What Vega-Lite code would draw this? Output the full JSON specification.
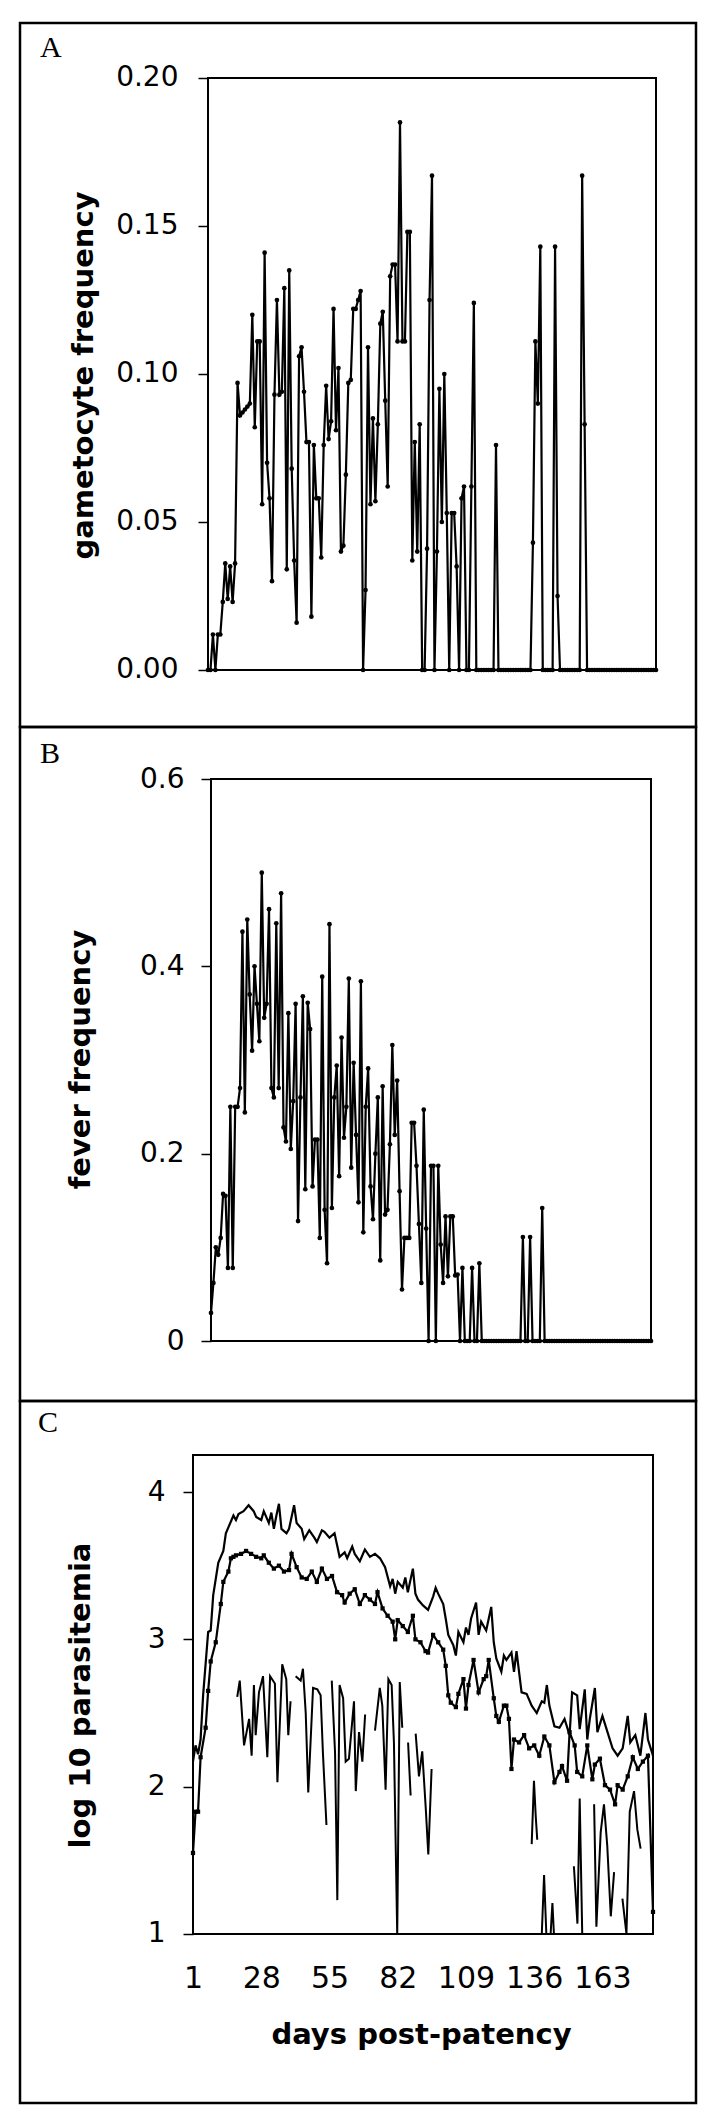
{
"$schema": "https://vega.github.io/schema/vega-lite/v6.json",
"padding": {"left": 18, "top": 21, "right": 18, "bottom": 14},
"background": "white",
"spacing": 0,
"bounds": "flush",
"config": {
 "view": {"stroke": "black", "strokeWidth": 2.5},
 "axis": {"labelFont": "DejaVu Sans", "labelFontSize": 28, "labelColor": "black", "titleFont": "DejaVu Sans", "titleFontSize": 29, "titleFontWeight": "bold", "titleColor": "black", "tickColor": "black", "tickWidth": 1.5, "grid": false, "domain": false},
 "title": {"font": "Liberation Serif", "fontSize": 30, "fontWeight": "normal", "color": "black", "anchor": "start", "frame": "group", "baseline": "alphabetic", "offset": 0}
},
"datasets": {
 "gam": [
{"day":1,"value":0},{"day":2,"value":0},{"day":3,"value":0.012},{"day":4,"value":0},{"day":5,"value":0.012},{"day":6,"value":0.012},{"day":7,"value":0.023},{"day":8,"value":0.036},{"day":9,"value":0.024},{"day":10,"value":0.035},{"day":11,"value":0.023},{"day":12,"value":0.036},{"day":13,"value":0.097},{"day":14,"value":0.086},{"day":15,"value":0.087},{"day":16,"value":0.088},{"day":17,"value":0.089},{"day":18,"value":0.09},{"day":19,"value":0.12},{"day":20,"value":0.082},{"day":21,"value":0.111},{"day":22,"value":0.111},{"day":23,"value":0.056},{"day":24,"value":0.141},{"day":25,"value":0.07},{"day":26,"value":0.058},{"day":27,"value":0.03},{"day":28,"value":0.093},{"day":29,"value":0.125},{"day":30,"value":0.093},{"day":31,"value":0.094},{"day":32,"value":0.129},{"day":33,"value":0.034},{"day":34,"value":0.135},{"day":35,"value":0.068},{"day":36,"value":0.037},{"day":37,"value":0.016},{"day":38,"value":0.106},{"day":39,"value":0.109},{"day":40,"value":0.094},{"day":41,"value":0.077},{"day":42,"value":0.077},{"day":43,"value":0.018},{"day":44,"value":0.076},{"day":45,"value":0.058},{"day":46,"value":0.058},{"day":47,"value":0.038},{"day":48,"value":0.076},{"day":49,"value":0.096},{"day":50,"value":0.078},{"day":51,"value":0.084},{"day":52,"value":0.122},{"day":53,"value":0.081},{"day":54,"value":0.102},{"day":55,"value":0.04},{"day":56,"value":0.042},{"day":57,"value":0.066},{"day":58,"value":0.097},{"day":59,"value":0.098},{"day":60,"value":0.122},{"day":61,"value":0.122},{"day":62,"value":0.125},{"day":63,"value":0.128},{"day":64,"value":0},{"day":65,"value":0.027},{"day":66,"value":0.109},{"day":67,"value":0.056},{"day":68,"value":0.085},{"day":69,"value":0.057},{"day":70,"value":0.083},{"day":71,"value":0.117},{"day":72,"value":0.121},{"day":73,"value":0.091},{"day":74,"value":0.062},{"day":75,"value":0.133},{"day":76,"value":0.137},{"day":77,"value":0.137},{"day":78,"value":0.111},{"day":79,"value":0.185},{"day":80,"value":0.111},{"day":81,"value":0.111},{"day":82,"value":0.148},{"day":83,"value":0.148},{"day":84,"value":0.037},{"day":85,"value":0.077},{"day":86,"value":0.04},{"day":87,"value":0.083},{"day":88,"value":0},{"day":89,"value":0},{"day":90,"value":0.041},{"day":91,"value":0.125},{"day":92,"value":0.167},{"day":93,"value":0},{"day":94,"value":0.04},{"day":95,"value":0.095},{"day":96,"value":0.05},{"day":97,"value":0.1},{"day":98,"value":0.053},{"day":99,"value":0},{"day":100,"value":0.053},{"day":101,"value":0.053},{"day":102,"value":0.035},{"day":103,"value":0},{"day":104,"value":0.058},{"day":105,"value":0.062},{"day":106,"value":0},{"day":107,"value":0},{"day":108,"value":0.062},{"day":109,"value":0.124},{"day":110,"value":0},{"day":111,"value":0},{"day":112,"value":0},{"day":113,"value":0},{"day":114,"value":0},{"day":115,"value":0},{"day":116,"value":0},{"day":117,"value":0},{"day":118,"value":0.076},{"day":119,"value":0},{"day":120,"value":0},{"day":121,"value":0},{"day":122,"value":0},{"day":123,"value":0},{"day":124,"value":0},{"day":125,"value":0},{"day":126,"value":0},{"day":127,"value":0},{"day":128,"value":0},{"day":129,"value":0},{"day":130,"value":0},{"day":131,"value":0},{"day":132,"value":0},{"day":133,"value":0.043},{"day":134,"value":0.111},{"day":135,"value":0.09},{"day":136,"value":0.143},{"day":137,"value":0},{"day":138,"value":0},{"day":139,"value":0},{"day":140,"value":0},{"day":141,"value":0},{"day":142,"value":0.143},{"day":143,"value":0.025},{"day":144,"value":0},{"day":145,"value":0},{"day":146,"value":0},{"day":147,"value":0},{"day":148,"value":0},{"day":149,"value":0},{"day":150,"value":0},{"day":151,"value":0},{"day":152,"value":0},{"day":153,"value":0.167},{"day":154,"value":0.083},{"day":155,"value":0},{"day":156,"value":0},{"day":157,"value":0},{"day":158,"value":0},{"day":159,"value":0},{"day":160,"value":0},{"day":161,"value":0},{"day":162,"value":0},{"day":163,"value":0},{"day":164,"value":0},{"day":165,"value":0},{"day":166,"value":0},{"day":167,"value":0},{"day":168,"value":0},{"day":169,"value":0},{"day":170,"value":0},{"day":171,"value":0},{"day":172,"value":0},{"day":173,"value":0},{"day":174,"value":0},{"day":175,"value":0},{"day":176,"value":0},{"day":177,"value":0},{"day":178,"value":0},{"day":179,"value":0},{"day":180,"value":0},{"day":181,"value":0},{"day":182,"value":0},{"day":183,"value":0}
 ],
 "fev": [
{"day":1,"value":0.03},{"day":2,"value":0.062},{"day":3,"value":0.1},{"day":4,"value":0.092},{"day":5,"value":0.11},{"day":6,"value":0.157},{"day":7,"value":0.155},{"day":8,"value":0.078},{"day":9,"value":0.25},{"day":10,"value":0.078},{"day":11,"value":0.25},{"day":12,"value":0.25},{"day":13,"value":0.27},{"day":14,"value":0.437},{"day":15,"value":0.244},{"day":16,"value":0.45},{"day":17,"value":0.37},{"day":18,"value":0.31},{"day":19,"value":0.4},{"day":20,"value":0.36},{"day":21,"value":0.32},{"day":22,"value":0.5},{"day":23,"value":0.345},{"day":24,"value":0.36},{"day":25,"value":0.461},{"day":26,"value":0.27},{"day":27,"value":0.26},{"day":28,"value":0.446},{"day":29,"value":0.27},{"day":30,"value":0.478},{"day":31,"value":0.228},{"day":32,"value":0.213},{"day":33,"value":0.35},{"day":34,"value":0.205},{"day":35,"value":0.256},{"day":36,"value":0.36},{"day":37,"value":0.128},{"day":38,"value":0.26},{"day":39,"value":0.368},{"day":40,"value":0.162},{"day":41,"value":0.361},{"day":42,"value":0.333},{"day":43,"value":0.165},{"day":44,"value":0.215},{"day":45,"value":0.215},{"day":46,"value":0.11},{"day":47,"value":0.389},{"day":48,"value":0.14},{"day":49,"value":0.083},{"day":50,"value":0.445},{"day":51,"value":0.142},{"day":52,"value":0.26},{"day":53,"value":0.294},{"day":54,"value":0.176},{"day":55,"value":0.324},{"day":56,"value":0.217},{"day":57,"value":0.25},{"day":58,"value":0.387},{"day":59,"value":0.185},{"day":60,"value":0.297},{"day":61,"value":0.22},{"day":62,"value":0.148},{"day":63,"value":0.384},{"day":64,"value":0.116},{"day":65,"value":0.25},{"day":66,"value":0.291},{"day":67,"value":0.165},{"day":68,"value":0.13},{"day":69,"value":0.2},{"day":70,"value":0.26},{"day":71,"value":0.086},{"day":72,"value":0.272},{"day":73,"value":0.135},{"day":74,"value":0.14},{"day":75,"value":0.21},{"day":76,"value":0.316},{"day":77,"value":0.22},{"day":78,"value":0.278},{"day":79,"value":0.16},{"day":80,"value":0.055},{"day":81,"value":0.11},{"day":82,"value":0.11},{"day":83,"value":0.11},{"day":84,"value":0.233},{"day":85,"value":0.233},{"day":86,"value":0.187},{"day":87,"value":0.125},{"day":88,"value":0.062},{"day":89,"value":0.247},{"day":90,"value":0.12},{"day":91,"value":0},{"day":92,"value":0.187},{"day":93,"value":0.187},{"day":94,"value":0},{"day":95,"value":0.187},{"day":96,"value":0.103},{"day":97,"value":0.062},{"day":98,"value":0.133},{"day":99,"value":0.069},{"day":100,"value":0.133},{"day":101,"value":0.133},{"day":102,"value":0.07},{"day":103,"value":0.071},{"day":104,"value":0},{"day":105,"value":0.078},{"day":106,"value":0},{"day":107,"value":0},{"day":108,"value":0},{"day":109,"value":0.078},{"day":110,"value":0},{"day":111,"value":0},{"day":112,"value":0.083},{"day":113,"value":0},{"day":114,"value":0},{"day":115,"value":0},{"day":116,"value":0},{"day":117,"value":0},{"day":118,"value":0},{"day":119,"value":0},{"day":120,"value":0},{"day":121,"value":0},{"day":122,"value":0},{"day":123,"value":0},{"day":124,"value":0},{"day":125,"value":0},{"day":126,"value":0},{"day":127,"value":0},{"day":128,"value":0},{"day":129,"value":0},{"day":130,"value":0.111},{"day":131,"value":0},{"day":132,"value":0},{"day":133,"value":0.111},{"day":134,"value":0},{"day":135,"value":0},{"day":136,"value":0},{"day":137,"value":0},{"day":138,"value":0.142},{"day":139,"value":0},{"day":140,"value":0},{"day":141,"value":0},{"day":142,"value":0},{"day":143,"value":0},{"day":144,"value":0},{"day":145,"value":0},{"day":146,"value":0},{"day":147,"value":0},{"day":148,"value":0},{"day":149,"value":0},{"day":150,"value":0},{"day":151,"value":0},{"day":152,"value":0},{"day":153,"value":0},{"day":154,"value":0},{"day":155,"value":0},{"day":156,"value":0},{"day":157,"value":0},{"day":158,"value":0},{"day":159,"value":0},{"day":160,"value":0},{"day":161,"value":0},{"day":162,"value":0},{"day":163,"value":0},{"day":164,"value":0},{"day":165,"value":0},{"day":166,"value":0},{"day":167,"value":0},{"day":168,"value":0},{"day":169,"value":0},{"day":170,"value":0},{"day":171,"value":0},{"day":172,"value":0},{"day":173,"value":0},{"day":174,"value":0},{"day":175,"value":0},{"day":176,"value":0},{"day":177,"value":0},{"day":178,"value":0},{"day":179,"value":0},{"day":180,"value":0},{"day":181,"value":0},{"day":182,"value":0},{"day":183,"value":0}
 ],
 "par": [
{"series":"upper","seg":0,"day":1,"value":2.17},{"series":"upper","seg":0,"day":2,"value":2.28},{"series":"upper","seg":0,"day":3,"value":2.22},{"series":"upper","seg":0,"day":4,"value":2.32},{"series":"upper","seg":0,"day":5,"value":2.62},{"series":"upper","seg":0,"day":7,"value":3.05},{"series":"upper","seg":0,"day":8,"value":3.06},{"series":"upper","seg":0,"day":9,"value":3.3},{"series":"upper","seg":0,"day":11,"value":3.52},{"series":"upper","seg":0,"day":13,"value":3.6},{"series":"upper","seg":0,"day":14,"value":3.72},{"series":"upper","seg":0,"day":15,"value":3.76},{"series":"upper","seg":0,"day":17,"value":3.84},{"series":"upper","seg":0,"day":18,"value":3.81},{"series":"upper","seg":0,"day":19,"value":3.85},{"series":"upper","seg":0,"day":21,"value":3.87},{"series":"upper","seg":0,"day":23,"value":3.91},{"series":"upper","seg":0,"day":25,"value":3.87},{"series":"upper","seg":0,"day":26,"value":3.83},{"series":"upper","seg":0,"day":28,"value":3.81},{"series":"upper","seg":0,"day":29,"value":3.87},{"series":"upper","seg":0,"day":31,"value":3.79},{"series":"upper","seg":0,"day":32,"value":3.86},{"series":"upper","seg":0,"day":33,"value":3.75},{"series":"upper","seg":0,"day":34,"value":3.84},{"series":"upper","seg":0,"day":35,"value":3.92},{"series":"upper","seg":0,"day":36,"value":3.75},{"series":"upper","seg":0,"day":38,"value":3.72},{"series":"upper","seg":0,"day":39,"value":3.75},{"series":"upper","seg":0,"day":41,"value":3.91},{"series":"upper","seg":0,"day":42,"value":3.79},{"series":"upper","seg":0,"day":44,"value":3.75},{"series":"upper","seg":0,"day":45,"value":3.68},{"series":"upper","seg":0,"day":47,"value":3.74},{"series":"upper","seg":0,"day":49,"value":3.69},{"series":"upper","seg":0,"day":50,"value":3.66},{"series":"upper","seg":0,"day":52,"value":3.74},{"series":"upper","seg":0,"day":53,"value":3.73},{"series":"upper","seg":0,"day":55,"value":3.69},{"series":"upper","seg":0,"day":57,"value":3.72},{"series":"upper","seg":0,"day":58,"value":3.64},{"series":"upper","seg":0,"day":59,"value":3.56},{"series":"upper","seg":0,"day":61,"value":3.59},{"series":"upper","seg":0,"day":62,"value":3.55},{"series":"upper","seg":0,"day":64,"value":3.63},{"series":"upper","seg":0,"day":65,"value":3.58},{"series":"upper","seg":0,"day":67,"value":3.53},{"series":"upper","seg":0,"day":69,"value":3.61},{"series":"upper","seg":0,"day":71,"value":3.56},{"series":"upper","seg":0,"day":73,"value":3.58},{"series":"upper","seg":0,"day":75,"value":3.55},{"series":"upper","seg":0,"day":77,"value":3.49},{"series":"upper","seg":0,"day":79,"value":3.36},{"series":"upper","seg":0,"day":80,"value":3.41},{"series":"upper","seg":0,"day":81,"value":3.31},{"series":"upper","seg":0,"day":82,"value":3.39},{"series":"upper","seg":0,"day":84,"value":3.35},{"series":"upper","seg":0,"day":85,"value":3.42},{"series":"upper","seg":0,"day":86,"value":3.32},{"series":"upper","seg":0,"day":88,"value":3.48},{"series":"upper","seg":0,"day":89,"value":3.31},{"series":"upper","seg":0,"day":90,"value":3.27},{"series":"upper","seg":0,"day":92,"value":3.23},{"series":"upper","seg":0,"day":94,"value":3.2},{"series":"upper","seg":0,"day":96,"value":3.29},{"series":"upper","seg":0,"day":97,"value":3.35},{"series":"upper","seg":0,"day":98,"value":3.31},{"series":"upper","seg":0,"day":100,"value":3.24},{"series":"upper","seg":0,"day":101,"value":3.14},{"series":"upper","seg":0,"day":102,"value":3.03},{"series":"upper","seg":0,"day":104,"value":2.96},{"series":"upper","seg":0,"day":105,"value":2.89},{"series":"upper","seg":0,"day":106,"value":3.05},{"series":"upper","seg":0,"day":108,"value":2.98},{"series":"upper","seg":0,"day":109,"value":3.08},{"series":"upper","seg":0,"day":110,"value":3.03},{"series":"upper","seg":0,"day":111,"value":3.14},{"series":"upper","seg":0,"day":113,"value":3.25},{"series":"upper","seg":0,"day":114,"value":3.03},{"series":"upper","seg":0,"day":115,"value":3.12},{"series":"upper","seg":0,"day":117,"value":3.06},{"series":"upper","seg":0,"day":119,"value":3.22},{"series":"upper","seg":0,"day":120,"value":2.98},{"series":"upper","seg":0,"day":121,"value":2.87},{"series":"upper","seg":0,"day":123,"value":2.78},{"series":"upper","seg":0,"day":124,"value":2.89},{"series":"upper","seg":0,"day":125,"value":2.86},{"series":"upper","seg":0,"day":127,"value":2.91},{"series":"upper","seg":0,"day":128,"value":2.78},{"series":"upper","seg":0,"day":129,"value":2.92},{"series":"upper","seg":0,"day":131,"value":2.64},{"series":"upper","seg":0,"day":133,"value":2.63},{"series":"upper","seg":0,"day":135,"value":2.55},{"series":"upper","seg":0,"day":137,"value":2.5},{"series":"upper","seg":0,"day":139,"value":2.58},{"series":"upper","seg":0,"day":140,"value":2.57},{"series":"upper","seg":0,"day":141,"value":2.69},{"series":"upper","seg":0,"day":142,"value":2.55},{"series":"upper","seg":0,"day":144,"value":2.41},{"series":"upper","seg":0,"day":146,"value":2.4},{"series":"upper","seg":0,"day":148,"value":2.46},{"series":"upper","seg":0,"day":150,"value":2.35},{"series":"upper","seg":0,"day":151,"value":2.64},{"series":"upper","seg":0,"day":153,"value":2.62},{"series":"upper","seg":0,"day":154,"value":2.39},{"series":"upper","seg":0,"day":156,"value":2.66},{"series":"upper","seg":0,"day":157,"value":2.32},{"series":"upper","seg":0,"day":158,"value":2.46},{"series":"upper","seg":0,"day":160,"value":2.67},{"series":"upper","seg":0,"day":161,"value":2.37},{"series":"upper","seg":0,"day":163,"value":2.48},{"series":"upper","seg":0,"day":165,"value":2.37},{"series":"upper","seg":0,"day":167,"value":2.26},{"series":"upper","seg":0,"day":169,"value":2.21},{"series":"upper","seg":0,"day":171,"value":2.26},{"series":"upper","seg":0,"day":173,"value":2.48},{"series":"upper","seg":0,"day":174,"value":2.3},{"series":"upper","seg":0,"day":176,"value":2.35},{"series":"upper","seg":0,"day":178,"value":2.21},{"series":"upper","seg":0,"day":180,"value":2.5},{"series":"upper","seg":0,"day":181,"value":2.32},{"series":"upper","seg":0,"day":183,"value":2.21},
{"series":"middle","seg":0,"day":1,"value":1.55},{"series":"middle","seg":0,"day":2,"value":1.83},{"series":"middle","seg":0,"day":3,"value":1.83},{"series":"middle","seg":0,"day":4,"value":2.2},{"series":"middle","seg":0,"day":6,"value":2.4},{"series":"middle","seg":0,"day":7,"value":2.65},{"series":"middle","seg":0,"day":8,"value":2.85},{"series":"middle","seg":0,"day":10,"value":2.98},{"series":"middle","seg":0,"day":12,"value":3.24},{"series":"middle","seg":0,"day":13,"value":3.39},{"series":"middle","seg":0,"day":15,"value":3.46},{"series":"middle","seg":0,"day":16,"value":3.55},{"series":"middle","seg":0,"day":17,"value":3.56},{"series":"middle","seg":0,"day":18,"value":3.57},{"series":"middle","seg":0,"day":20,"value":3.58},{"series":"middle","seg":0,"day":22,"value":3.6},{"series":"middle","seg":0,"day":24,"value":3.58},{"series":"middle","seg":0,"day":26,"value":3.56},{"series":"middle","seg":0,"day":28,"value":3.55},{"series":"middle","seg":0,"day":29,"value":3.57},{"series":"middle","seg":0,"day":31,"value":3.52},{"series":"middle","seg":0,"day":33,"value":3.48},{"series":"middle","seg":0,"day":35,"value":3.5},{"series":"middle","seg":0,"day":37,"value":3.46},{"series":"middle","seg":0,"day":39,"value":3.47},{"series":"middle","seg":0,"day":40,"value":3.58},{"series":"middle","seg":0,"day":42,"value":3.49},{"series":"middle","seg":0,"day":44,"value":3.42},{"series":"middle","seg":0,"day":46,"value":3.41},{"series":"middle","seg":0,"day":48,"value":3.46},{"series":"middle","seg":0,"day":50,"value":3.39},{"series":"middle","seg":0,"day":52,"value":3.48},{"series":"middle","seg":0,"day":54,"value":3.41},{"series":"middle","seg":0,"day":56,"value":3.43},{"series":"middle","seg":0,"day":58,"value":3.32},{"series":"middle","seg":0,"day":60,"value":3.3},{"series":"middle","seg":0,"day":61,"value":3.25},{"series":"middle","seg":0,"day":63,"value":3.31},{"series":"middle","seg":0,"day":65,"value":3.34},{"series":"middle","seg":0,"day":67,"value":3.24},{"series":"middle","seg":0,"day":69,"value":3.3},{"series":"middle","seg":0,"day":71,"value":3.27},{"series":"middle","seg":0,"day":73,"value":3.24},{"series":"middle","seg":0,"day":74,"value":3.32},{"series":"middle","seg":0,"day":76,"value":3.21},{"series":"middle","seg":0,"day":78,"value":3.16},{"series":"middle","seg":0,"day":80,"value":3.12},{"series":"middle","seg":0,"day":81,"value":3.0},{"series":"middle","seg":0,"day":82,"value":3.13},{"series":"middle","seg":0,"day":84,"value":3.09},{"series":"middle","seg":0,"day":86,"value":3.05},{"series":"middle","seg":0,"day":88,"value":3.16},{"series":"middle","seg":0,"day":89,"value":3.0},{"series":"middle","seg":0,"day":91,"value":2.98},{"series":"middle","seg":0,"day":93,"value":2.92},{"series":"middle","seg":0,"day":94,"value":2.91},{"series":"middle","seg":0,"day":96,"value":3.03},{"series":"middle","seg":0,"day":98,"value":2.98},{"series":"middle","seg":0,"day":100,"value":2.93},{"series":"middle","seg":0,"day":101,"value":2.82},{"series":"middle","seg":0,"day":102,"value":2.62},{"series":"middle","seg":0,"day":103,"value":2.57},{"series":"middle","seg":0,"day":105,"value":2.54},{"series":"middle","seg":0,"day":106,"value":2.63},{"series":"middle","seg":0,"day":108,"value":2.73},{"series":"middle","seg":0,"day":109,"value":2.53},{"series":"middle","seg":0,"day":110,"value":2.69},{"series":"middle","seg":0,"day":112,"value":2.86},{"series":"middle","seg":0,"day":114,"value":2.64},{"series":"middle","seg":0,"day":116,"value":2.73},{"series":"middle","seg":0,"day":117,"value":2.75},{"series":"middle","seg":0,"day":118,"value":2.86},{"series":"middle","seg":0,"day":120,"value":2.6},{"series":"middle","seg":0,"day":121,"value":2.48},{"series":"middle","seg":0,"day":122,"value":2.44},{"series":"middle","seg":0,"day":124,"value":2.55},{"series":"middle","seg":0,"day":125,"value":2.55},{"series":"middle","seg":0,"day":126,"value":2.46},{"series":"middle","seg":0,"day":127,"value":2.12},{"series":"middle","seg":0,"day":128,"value":2.32},{"series":"middle","seg":0,"day":130,"value":2.3},{"series":"middle","seg":0,"day":132,"value":2.35},{"series":"middle","seg":0,"day":134,"value":2.26},{"series":"middle","seg":0,"day":136,"value":2.28},{"series":"middle","seg":0,"day":138,"value":2.21},{"series":"middle","seg":0,"day":140,"value":2.34},{"series":"middle","seg":0,"day":142,"value":2.28},{"series":"middle","seg":0,"day":144,"value":2.03},{"series":"middle","seg":0,"day":146,"value":2.1},{"series":"middle","seg":0,"day":147,"value":2.14},{"series":"middle","seg":0,"day":149,"value":2.04},{"series":"middle","seg":0,"day":150,"value":2.37},{"series":"middle","seg":0,"day":152,"value":2.28},{"series":"middle","seg":0,"day":153,"value":2.1},{"series":"middle","seg":0,"day":155,"value":2.07},{"series":"middle","seg":0,"day":157,"value":2.28},{"series":"middle","seg":0,"day":159,"value":2.05},{"series":"middle","seg":0,"day":160,"value":2.15},{"series":"middle","seg":0,"day":162,"value":2.19},{"series":"middle","seg":0,"day":164,"value":2.01},{"series":"middle","seg":0,"day":166,"value":1.98},{"series":"middle","seg":0,"day":168,"value":1.88},{"series":"middle","seg":0,"day":169,"value":2.01},{"series":"middle","seg":0,"day":171,"value":1.98},{"series":"middle","seg":0,"day":173,"value":2.07},{"series":"middle","seg":0,"day":175,"value":2.2},{"series":"middle","seg":0,"day":177,"value":2.12},{"series":"middle","seg":0,"day":179,"value":2.17},{"series":"middle","seg":0,"day":181,"value":2.21},{"series":"middle","seg":0,"day":183,"value":1.15},
{"series":"lower","seg":1,"day":18.5,"value":2.61},{"series":"lower","seg":1,"day":19.5,"value":2.72},{"series":"lower","seg":1,"day":21.2,"value":2.28},{"series":"lower","seg":1,"day":23.2,"value":2.46},{"series":"lower","seg":1,"day":24.2,"value":2.21},{"series":"lower","seg":1,"day":25.1,"value":2.69},{"series":"lower","seg":1,"day":25.8,"value":2.35},{"series":"lower","seg":1,"day":27.1,"value":2.64},{"series":"lower","seg":1,"day":28.7,"value":2.75},{"series":"lower","seg":1,"day":30.4,"value":2.2},{"series":"lower","seg":1,"day":31.5,"value":2.75},{"series":"lower","seg":1,"day":33.4,"value":2.7},{"series":"lower","seg":1,"day":34.4,"value":2.03},{"series":"lower","seg":1,"day":36.3,"value":2.83},{"series":"lower","seg":1,"day":37.9,"value":2.73},{"series":"lower","seg":1,"day":38.7,"value":2.35},{"series":"lower","seg":1,"day":39.6,"value":2.58},
{"series":"lower","seg":2,"day":41.6,"value":2.75},{"series":"lower","seg":2,"day":43.6,"value":2.72},{"series":"lower","seg":2,"day":44.5,"value":2.8},{"series":"lower","seg":2,"day":45.6,"value":2.5},{"series":"lower","seg":2,"day":46.6,"value":1.96},{"series":"lower","seg":2,"day":48.5,"value":2.67},{"series":"lower","seg":2,"day":50.2,"value":2.66},{"series":"lower","seg":2,"day":51.5,"value":2.62},{"series":"lower","seg":2,"day":52.4,"value":2.23},{"series":"lower","seg":2,"day":53.8,"value":1.74},
{"series":"lower","seg":3,"day":55.9,"value":2.72},{"series":"lower","seg":3,"day":57.2,"value":2.23},{"series":"lower","seg":3,"day":58.1,"value":1.23},{"series":"lower","seg":3,"day":59.0,"value":2.69},{"series":"lower","seg":3,"day":60.4,"value":2.6},{"series":"lower","seg":3,"day":61.4,"value":2.17},{"series":"lower","seg":3,"day":62.7,"value":2.19},{"series":"lower","seg":3,"day":64.7,"value":2.58},{"series":"lower","seg":3,"day":65.4,"value":1.97},{"series":"lower","seg":3,"day":66.7,"value":2.37},{"series":"lower","seg":3,"day":68.0,"value":2.17},{"series":"lower","seg":3,"day":69.1,"value":2.49},
{"series":"lower","seg":4,"day":73.0,"value":2.38},{"series":"lower","seg":4,"day":74.9,"value":2.67},{"series":"lower","seg":4,"day":75.9,"value":2.55},{"series":"lower","seg":4,"day":77.2,"value":1.98},{"series":"lower","seg":4,"day":78.3,"value":2.73},{"series":"lower","seg":4,"day":79.6,"value":2.69},{"series":"lower","seg":4,"day":80.5,"value":2.3},{"series":"lower","seg":4,"day":81.8,"value":1.0},{"series":"lower","seg":4,"day":82.8,"value":2.71},{"series":"lower","seg":4,"day":83.8,"value":2.4},
{"series":"lower","seg":5,"day":86.1,"value":2.3},{"series":"lower","seg":5,"day":87.1,"value":1.94},
{"series":"lower","seg":6,"day":89.1,"value":2.36},{"series":"lower","seg":6,"day":90.4,"value":2.07},{"series":"lower","seg":6,"day":91.7,"value":2.24},{"series":"lower","seg":6,"day":93.1,"value":1.85},{"series":"lower","seg":6,"day":94.1,"value":1.54},{"series":"lower","seg":6,"day":95.4,"value":2.12},
{"series":"lower","seg":7,"day":135.0,"value":1.61},{"series":"lower","seg":7,"day":135.9,"value":2.04},{"series":"lower","seg":7,"day":136.6,"value":1.8},{"series":"lower","seg":7,"day":137.2,"value":1.64},
{"series":"lower","seg":8,"day":139.0,"value":1.0},{"series":"lower","seg":8,"day":139.9,"value":1.4},{"series":"lower","seg":8,"day":140.8,"value":1.0},
{"series":"lower","seg":9,"day":142.5,"value":1.0},{"series":"lower","seg":9,"day":143.2,"value":1.21},{"series":"lower","seg":9,"day":143.8,"value":1.0},
{"series":"lower","seg":10,"day":151.7,"value":1.46},{"series":"lower","seg":10,"day":153.1,"value":1.07},{"series":"lower","seg":10,"day":154.0,"value":1.92},{"series":"lower","seg":10,"day":155.0,"value":1.0},
{"series":"lower","seg":11,"day":159.7,"value":1.88},{"series":"lower","seg":11,"day":160.6,"value":1.05},{"series":"lower","seg":11,"day":162.3,"value":1.69},{"series":"lower","seg":11,"day":163.6,"value":1.88},{"series":"lower","seg":11,"day":164.9,"value":1.6},{"series":"lower","seg":11,"day":166.3,"value":1.12},{"series":"lower","seg":11,"day":167.6,"value":1.42},
{"series":"lower","seg":12,"day":170.9,"value":1.24},{"series":"lower","seg":12,"day":172.5,"value":1.0},{"series":"lower","seg":12,"day":173.8,"value":1.83},{"series":"lower","seg":12,"day":175.5,"value":1.97},{"series":"lower","seg":12,"day":176.8,"value":1.71},{"series":"lower","seg":12,"day":178.1,"value":1.58}
 ]
},
"vconcat": [
 {
  "width": 676, "height": 704,
  "title": {"text": "A", "dx": 20, "dy": 44},
  "layer": [
   {
    "data": {"values": [{}]},
    "mark": {"type": "rect", "filled": false, "color": "black", "strokeWidth": 2},
    "encoding": {
     "x": {"datum": 1, "type": "quantitative", "scale": {"domain": [-75.38, 199.25], "nice": false, "zero": false}, "axis": null},
     "x2": {"datum": 183},
     "y": {"datum": 0, "type": "quantitative", "scale": {"domain": [-0.019257, 0.21858], "nice": false, "zero": false},
       "axis": {"values": [0, 0.05, 0.1, 0.15, 0.2], "format": ".2f", "offset": -188, "tickSize": 10, "labelPadding": 20, "title": "gametocyte frequency", "titleX": -125, "titleY": 352, "titleBaseline": "middle", "titleAngle": -90}},
     "y2": {"datum": 0.2}
    }
   },
   {
    "data": {"name": "gam"},
    "mark": {"type": "line", "color": "black", "strokeWidth": 2.2, "point": {"filled": true, "size": 22, "color": "black"}},
    "encoding": {
     "x": {"field": "day", "type": "quantitative"},
     "y": {"field": "value", "type": "quantitative"}
    }
   }
  ]
 },
 {
  "width": 676, "height": 674,
  "title": {"text": "B", "dx": 20, "dy": 46},
  "layer": [
   {
    "data": {"values": [{}]},
    "mark": {"type": "rect", "filled": false, "color": "black", "strokeWidth": 2},
    "encoding": {
     "x": {"datum": 1, "type": "quantitative", "scale": {"domain": [-78.005, 201.61], "nice": false, "zero": false}, "axis": null},
     "x2": {"datum": 183},
     "y": {"datum": 0, "type": "quantitative", "scale": {"domain": [-0.064057, 0.65552], "nice": false, "zero": false},
       "axis": {"values": [0, 0.2, 0.4, 0.6], "format": ".1~f", "offset": -191, "tickSize": 10, "labelPadding": 17, "title": "fever frequency", "titleX": -131, "titleY": 332, "titleBaseline": "middle", "titleAngle": -90}},
     "y2": {"datum": 0.6}
    }
   },
   {
    "data": {"name": "fev"},
    "mark": {"type": "line", "color": "black", "strokeWidth": 2.2, "point": {"filled": true, "size": 22, "color": "black"}},
    "encoding": {
     "x": {"field": "day", "type": "quantitative"},
     "y": {"field": "value", "type": "quantitative"}
    }
   }
  ]
 },
 {
  "width": 676, "height": 702,
  "title": {"text": "C", "dx": 18, "dy": 41},
  "layer": [
   {
    "data": {"values": [{}]},
    "mark": {"type": "rect", "filled": false, "color": "black", "strokeWidth": 2},
    "encoding": {
     "x": {"datum": 1, "type": "quantitative", "scale": {"domain": [-67.447, 200.013], "nice": false, "zero": false},
       "axis": {"values": [1, 28, 55, 82, 109, 136, 163], "format": "d", "orient": "bottom", "offset": -169, "ticks": false, "labelPadding": 29, "labelFontSize": 30, "title": "days post-patency", "titleX": 401, "titleY": 109, "titleBaseline": "alphabetic"}},
     "x2": {"datum": 183},
     "y": {"datum": 1, "type": "quantitative", "scale": {"domain": [-0.1471, 4.6177], "nice": false, "zero": false},
       "axis": {"values": [1, 2, 3, 4], "format": "d", "offset": -173, "tickSize": 10, "labelPadding": 18, "title": "log 10 parasitemia", "titleX": -113, "titleY": 294, "titleBaseline": "middle", "titleAngle": -90}},
     "y2": {"datum": 4.2512}
    }
   },
   {
    "data": {"name": "par"},
    "transform": [{"filter": "datum.series === 'upper'"}],
    "mark": {"type": "line", "color": "black", "strokeWidth": 2.2},
    "encoding": {
     "x": {"field": "day", "type": "quantitative"},
     "y": {"field": "value", "type": "quantitative"}
    }
   },
   {
    "data": {"name": "par"},
    "transform": [{"filter": "datum.series === 'middle'"}],
    "mark": {"type": "line", "color": "black", "strokeWidth": 2.2, "point": {"filled": true, "shape": "square", "size": 18, "color": "black"}},
    "encoding": {
     "x": {"field": "day", "type": "quantitative"},
     "y": {"field": "value", "type": "quantitative"}
    }
   },
   {
    "data": {"name": "par"},
    "transform": [{"filter": "datum.series === 'lower'"}],
    "mark": {"type": "line", "color": "black", "strokeWidth": 2},
    "encoding": {
     "x": {"field": "day", "type": "quantitative"},
     "y": {"field": "value", "type": "quantitative"},
     "detail": {"field": "seg", "type": "nominal"}
    }
   }
  ]
 }
]
}
